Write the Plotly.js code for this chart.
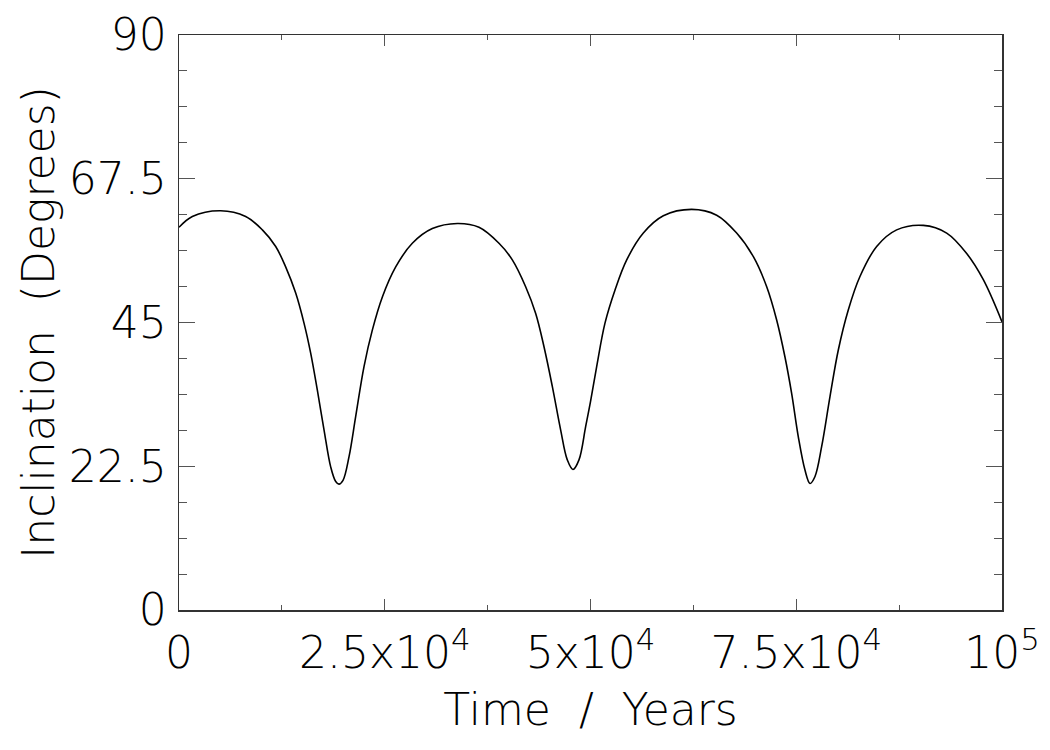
<!DOCTYPE html>
<html>
<head>
<meta charset="utf-8">
<script src="https://cdn.plot.ly/plotly-3.0.1.min.js"></script>
<style>html,body{margin:0;padding:0;background:#fff;}#chart{width:1050px;height:750px;}</style>
</head>
<body>
<div id="chart"></div>
<script>
// Time in years
const timeYears = [0, 1620, 5060, 8100, 10130, 11750, 12960, 14180, 15190, 16000, 16810, 17620, 18430, 19040, 19440, 19930, 20660, 21470, 22480, 23490, 24710, 26330, 28350, 30780, 33820, 36450, 38880, 40500, 42120, 43340, 44350, 45360, 46370, 47180, 47870, 48600, 49410, 50000, 50750, 51760, 52980, 54400, 56420, 58850, 62290, 65330, 67760, 69790, 71410, 72620, 73630, 74440, 75250, 76060, 76670, 77280, 78090, 79100, 80110, 81330, 82740, 84770, 87200, 90440, 93280, 95710, 97730, 100000];
// Inclination in degrees
const inclinationDeg = [59.9, 61.6, 62.5, 61.6, 59.5, 56.9, 53.7, 49.6, 44.9, 40.2, 34.4, 28.2, 22.4, 20.1, 19.7, 20.3, 24.0, 30.3, 38.1, 43.8, 49.0, 53.7, 57.4, 59.7, 60.5, 59.9, 57.4, 54.8, 50.6, 46.4, 41.2, 35.0, 28.2, 23.5, 22.0, 23.5, 28.7, 32.6, 38.1, 44.9, 50.1, 54.8, 59.0, 61.7, 62.7, 61.8, 59.0, 55.3, 50.6, 45.4, 39.6, 33.9, 27.1, 21.9, 19.8, 20.9, 25.6, 33.4, 40.7, 47.0, 52.2, 56.9, 59.5, 60.2, 59.0, 55.8, 51.7, 45.1];

const xTickVals = [0, 25000, 50000, 75000, 100000];
const xTickText = ["0", "2.5x10<sup>4</sup>", "5x10<sup>4</sup>", "7.5x10<sup>4</sup>", "10<sup>5</sup>"];
const yTickVals = [0, 22.5, 45, 67.5, 90];
const yTickText = ["0", "22.5", "45", "67.5", "90"];

const fontFam = "DejaVu Sans, sans-serif";
const fs = 44;

const trace = {
  x: timeYears,
  y: inclinationDeg,
  type: "scatter",
  mode: "lines",
  line: {color: "#000", width: 1.6, shape: "spline", smoothing: 1},
  hoverinfo: "skip"
};

const layout = {
  width: 1050, height: 750,
  margin: {l: 179, r: 48, t: 35, b: 140},
  paper_bgcolor: "#fff", plot_bgcolor: "#fff",
  showlegend: false,
  font: {family: fontFam, color: "#000", size: fs, weight: 200},
  xaxis: {
    range: [0, 100000],
    showgrid: false, zeroline: false,
    showline: true, linecolor: "#333", linewidth: 1.5, mirror: "ticks",
    ticks: "inside", ticklen: 11, tickwidth: 1, tickcolor: "#555",
    tickvals: xTickVals, ticktext: xTickText,
    tickfont: {family: fontFam, size: fs, color: "#000", weight: 200},
    ticklabelstandoff: 4,
    minor: {dtick: 12500, ticklen: 5, tickwidth: 1, tickcolor: "#555", ticks: "inside", showgrid: false},
    title: {text: "Time\u00a0\u00a0/\u00a0\u00a0Years", font: {family: fontFam, size: fs, color: "#000", weight: 200}, standoff: 17}
  },
  yaxis: {
    range: [0, 90],
    showgrid: false, zeroline: false,
    showline: true, linecolor: "#333", linewidth: 1.5, mirror: "ticks",
    ticks: "inside", ticklen: 16, tickwidth: 1, tickcolor: "#555",
    tickvals: yTickVals, ticktext: yTickText,
    tickfont: {family: fontFam, size: fs, color: "#000", weight: 200},
    ticklabelstandoff: 2,
    minor: {dtick: 5.625, ticklen: 8, tickwidth: 1, tickcolor: "#555", ticks: "inside", showgrid: false},
    title: {text: "Inclination\u00a0\u00a0(Degrees)", font: {family: fontFam, size: fs, color: "#000", weight: 200}, standoff: 0}
  }
};

Plotly.newPlot("chart", [trace], layout, {displayModeBar: false, staticPlot: true});
</script>
</body>
</html>
